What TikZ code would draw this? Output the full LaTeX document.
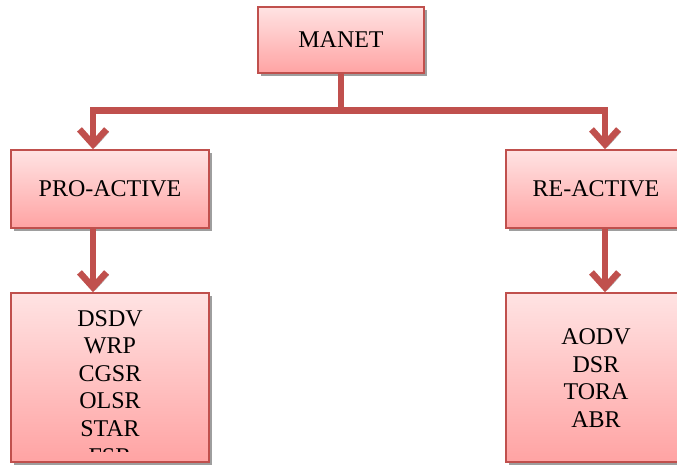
\documentclass[tikz,border=0pt]{standalone}
\usepackage{fontspec}
\setmainfont{Liberation Serif}
\newfontfamily\timesfont{Liberation Serif}
\usetikzlibrary{arrows.meta,shadows}
\definecolor{accent}{HTML}{C0504D}
\definecolor{pinktop}{HTML}{FFE3E3}
\definecolor{pinkbot}{HTML}{FFA3A3}
\definecolor{shadowgray}{HTML}{9E9E9E}
\begin{document}
\begin{tikzpicture}[x=1pt,y=-1pt,
  font=\timesfont\fontsize{24}{27.6}\selectfont,
  box/.style={draw=accent, line width=1.5pt, top color=pinktop, bottom color=pinkbot,
    drop shadow={shadow xshift=2.5pt, shadow yshift=-2.5pt, fill=shadowgray, opacity=1},
    inner sep=0pt},
  listtext/.style={align=center, inner sep=0pt},
  conn/.style={draw=accent, line width=6.5pt, line join=miter,
    preaction={draw=shadowgray, transform canvas={shift={(2.5pt,-2.5pt)}}}},
  arr/.style={conn, -{Straight Barb[length=15pt,width=27pt]}}]
\useasboundingbox (0,0) rectangle (677,464);
\clip (0,0) rectangle (677,464);
% boxes
\node[box, minimum width=166pt, minimum height=66pt] (manet) at (341,40) {MANET};
\node[box, minimum width=198pt, minimum height=78pt] (pro) at (110,189) {PRO-ACTIVE};
\node[box, minimum width=180pt, minimum height=78pt] (re) at (596,189) {RE-ACTIVE};
\node[box, minimum width=198pt, minimum height=169pt] (plist) at (110,377.5) {};
\node[box, minimum width=180pt, minimum height=169pt] (rlist) at (596,377.5) {};
\begin{scope}
  \clip (11,293) rectangle (209,451);
  \node[listtext, anchor=north] (plistt) at (110,310) {DSDV\\WRP\\CGSR\\OLSR\\STAR\\FSR};
\end{scope}
\node[listtext] (rlistt) at (596,378) {AODV\\DSR\\TORA\\ABR};
% connectors
\coordinate (jm) at (341,110.5);
\coordinate (jl) at (93,110.5);
\coordinate (jr) at (605,110.5);
\draw[conn] (manet.south) -- (jm);
\draw[arr] (jm) -- (jl) -- (jl |- pro.north);
\draw[arr] (jm) -- (jr) -- (jr |- re.north);
\draw[arr] (jl |- pro.south) -- (jl |- plist.north);
\draw[arr] (jr |- re.south) -- (jr |- rlist.north);
\end{tikzpicture}
\end{document}
